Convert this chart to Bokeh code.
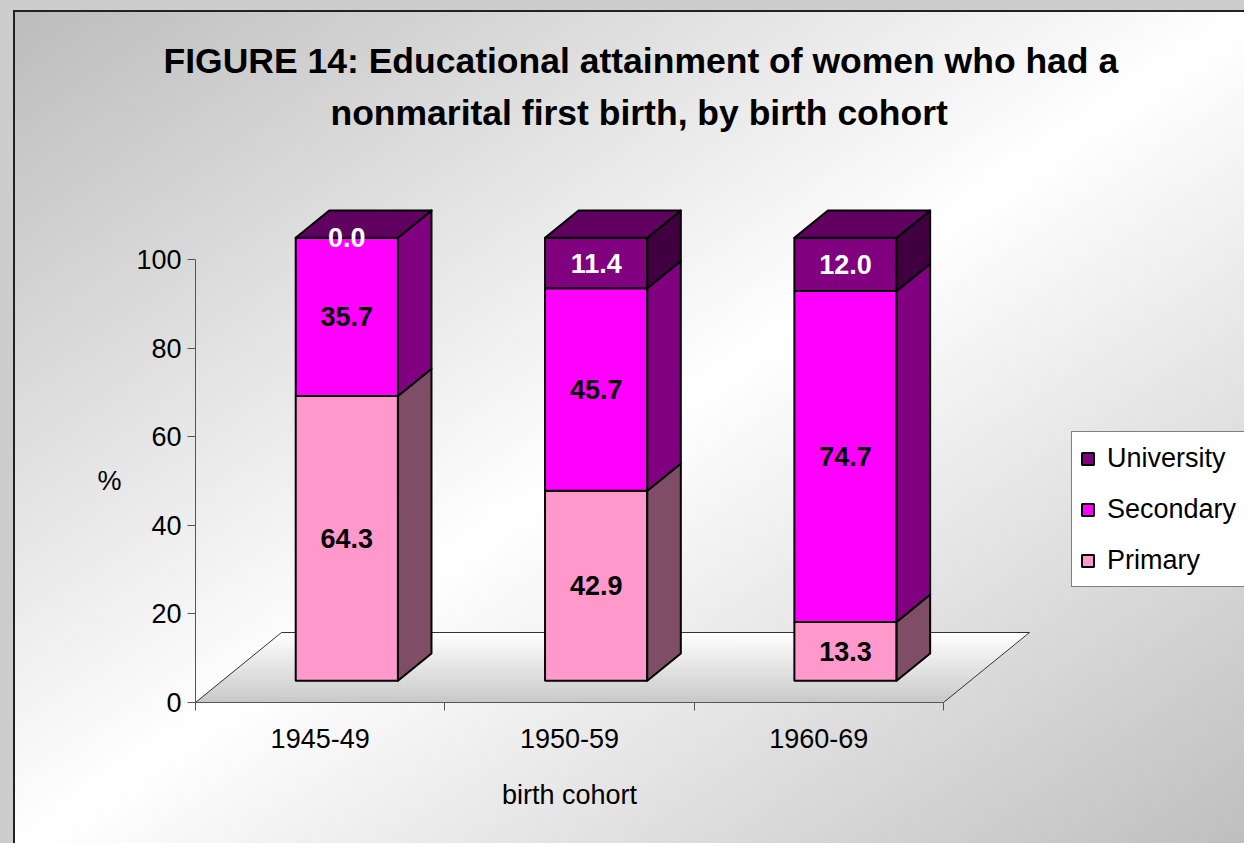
from bokeh.plotting import figure
from bokeh.models import (ColumnDataSource, Range1d, FixedTicker, Legend, LegendItem,
                          LinearAxis, Title)
from bokeh.core.properties import value
from bokeh.embed import file_html
from bokeh.resources import INLINE

# ---------------- data ----------------
cohorts = ["1945-49", "1950-59", "1960-69"]
primary = [64.3, 42.9, 13.3]
secondary = [35.7, 45.7, 74.7]
university = [0.0, 11.4, 12.0]
y_ticks = [0, 20, 40, 60, 80, 100]

series_names = ["Primary", "Secondary", "University"]
series_values = [primary, secondary, university]
front_colors = ["#FF99CC", "#FF00FF", "#800080"]
side_colors = ["#804D66", "#800080", "#400040"]
label_colors = ["black", "black", "white"]
top_color = "#600060"

title_lines = ["FIGURE 14: Educational attainment of women who had a",
               "nonmarital first birth, by birth cohort"]
x_title = "birth cohort"
y_title = "%"

FONT = "Liberation Sans"

# ---------------- layout (reference pixels) ----------------
W, H = 1244, 843
AX_X0, AX_X1 = 195, 943
AX_Y0, AX_Y100 = 702, 259
FRAME_TOP = 134
PX_PER_CAT = (AX_X1 - AX_X0) / len(cohorts)
PX_PER_PCT = (AX_Y0 - AX_Y100) / 100.0
FLOOR_DX_PX, FLOOR_DY_PX = 86, 70
BAR_FRONT, BAR_BACK = 0.31, 0.70
BAR_W = 0.41

left_border = AX_X0
bottom_border = H - AX_Y0
frame_w = W - left_border
frame_h = AX_Y0 - FRAME_TOP

p = figure(width=W, height=H, output_backend="svg", toolbar_location=None,
           x_range=Range1d(0, frame_w / PX_PER_CAT),
           y_range=Range1d(0, frame_h / PX_PER_PCT),
           min_border_left=left_border, min_border_bottom=bottom_border,
           min_border_top=FRAME_TOP, min_border_right=0)
p.title.visible = False
p.background_fill_color = None
p.border_fill_color = None
p.outline_line_color = None
p.xgrid.visible = False
p.ygrid.visible = False
p.styles = {
    "background": (
        "linear-gradient(#222, #222) 13px 10px / 2px 100% no-repeat, "
        "linear-gradient(#222, #222) 13px 10px / 100% 2px no-repeat, "
        "linear-gradient(to bottom right, #bcbcbc 0%, #ffffff 50%, #bdbdbd 100%) 14px 11px / 100% 100% no-repeat, "
        "#cdcdcd"
    )
}

# ---------------- titles ----------------
for line, off, stand in ((title_lines[1], 135, 4), (title_lines[0], -32, 16)):
    p.add_layout(Title(text=line, align="left", offset=off, standoff=stand,
                       text_font=FONT, text_font_style="bold", text_font_size="35.5px",
                       text_color="black"), "above")

# ---------------- axes ----------------
n = len(cohorts)
centers = [i + 0.5 for i in range(n)]
AXIS_COLOR = "#555555"

xa = p.xaxis[0]
xa.ticker = FixedTicker(ticks=centers, minor_ticks=list(range(n + 1)))
xa.major_label_overrides = {c: lab for c, lab in zip(centers, cohorts)}
xa.bounds = (0, n)
xa.major_tick_line_color = None
xa.minor_tick_in = 0
xa.minor_tick_out = 8
xa.minor_tick_line_color = AXIS_COLOR
xa.axis_line_color = AXIS_COLOR
xa.major_label_standoff = 18
xa.major_label_text_font = FONT
xa.major_label_text_font_size = "27px"
xa.major_label_text_color = "black"

ya = p.yaxis[0]
ya.ticker = FixedTicker(ticks=y_ticks, minor_ticks=[])
ya.bounds = (0, 100)
ya.major_tick_in = 0
ya.major_tick_out = 8
ya.major_tick_line_color = AXIS_COLOR
ya.axis_line_color = AXIS_COLOR
ya.minor_tick_line_color = None
ya.major_label_standoff = 6
ya.major_label_text_font = FONT
ya.major_label_text_font_size = "27px"
ya.major_label_text_color = "black"

# axis titles, placed through the axes' own scales
x_mid = n / 2.0
xa2 = LinearAxis(ticker=FixedTicker(ticks=[x_mid], minor_ticks=[]),
                 major_label_overrides={x_mid: x_title},
                 axis_line_color=None, major_tick_line_color=None, minor_tick_line_color=None,
                 major_tick_in=0, major_tick_out=0, major_label_standoff=29,
                 major_label_text_font=FONT, major_label_text_font_size="27px",
                 major_label_text_color="black")
p.add_layout(xa2, "below")

y_mid = 50
ya2 = LinearAxis(ticker=FixedTicker(ticks=[y_mid], minor_ticks=[]),
                 major_label_overrides={y_mid: y_title},
                 axis_line_color=None, major_tick_line_color=None, minor_tick_line_color=None,
                 major_tick_in=0, major_tick_out=0, major_label_standoff=12,
                 major_label_text_font=FONT, major_label_text_font_size="27px",
                 major_label_text_color="black")
p.add_layout(ya2, "left")

# ---------------- floor ----------------
dxF = FLOOR_DX_PX / PX_PER_CAT
dyF = FLOOR_DY_PX / PX_PER_PCT
NSTRIP = 24
fxs, fys, fcols = [], [], []
for k in range(NSTRIP):
    d0 = k / NSTRIP
    d1 = (k + 1) / NSTRIP
    fxs.append([d0 * dxF, n + d0 * dxF, n + d1 * dxF, d1 * dxF])
    fys.append([d0 * dyF, d0 * dyF, d1 * dyF, d1 * dyF])
    t = (k + 0.5) / NSTRIP
    g = int(round(200 + (255 - 200) * t))
    fcols.append("#%02x%02x%02x" % (g, g, g))
p.patches(xs=fxs, ys=fys, fill_color=fcols, line_color=fcols, line_width=1)
p.patch(x=[0, n, n + dxF, dxF], y=[0, 0, dyF, dyF], fill_color=None,
        line_color="#333333", line_width=1)

# ---------------- 3D stacked bars ----------------
fx0, fy0 = BAR_FRONT * dxF, BAR_FRONT * dyF
bdx, bdy = (BAR_BACK - BAR_FRONT) * dxF, (BAR_BACK - BAR_FRONT) * dyF

base = [0.0] * n
front_renderers = []
lab_x, lab_y, lab_t, lab_c = [], [], [], []
for s, (name, vals) in enumerate(zip(series_names, series_values)):
    lefts = [c - BAR_W / 2 + fx0 for c in centers]
    rights = [c + BAR_W / 2 + fx0 for c in centers]
    bottoms = [b + fy0 for b in base]
    tops = [b + v + fy0 for b, v in zip(base, vals)]
    src = ColumnDataSource(dict(left=lefts, right=rights, bottom=bottoms, top=tops))
    r = p.quad(left="left", right="right", bottom="bottom", top="top", source=src,
               fill_color=front_colors[s], line_color="black", line_width=2)
    front_renderers.append(r)
    sxs = [[rr, rr + bdx, rr + bdx, rr] for rr in rights]
    sys_ = [[b, b + bdy, t + bdy, t] for b, t in zip(bottoms, tops)]
    p.patches(xs=sxs, ys=sys_, fill_color=side_colors[s], line_color="black",
              line_width=2, line_join="round")
    for i in range(n):
        lab_x.append((lefts[i] + rights[i]) / 2)
        lab_y.append((bottoms[i] + tops[i]) / 2)
        lab_t.append("%.1f" % vals[i])
        lab_c.append(label_colors[s])
    base = [b + v for b, v in zip(base, vals)]

top_x = [[c - BAR_W / 2 + fx0, c - BAR_W / 2 + fx0 + bdx, c + BAR_W / 2 + fx0 + bdx, c + BAR_W / 2 + fx0]
         for c in centers]
top_y = [[b + fy0, b + fy0 + bdy, b + fy0 + bdy, b + fy0] for b in base]
p.patches(xs=top_x, ys=top_y, fill_color=top_color, line_color="black", line_width=2,
          line_join="round")

lsrc = ColumnDataSource(dict(x=lab_x, y=lab_y, text=lab_t, color=lab_c))
p.text(x="x", y="y", text="text", source=lsrc, text_color="color",
       text_font=value(FONT), text_font_style="bold", text_font_size="27px",
       text_align="center", text_baseline="middle")

# ---------------- legend ----------------
legend = Legend(
    items=[LegendItem(label=series_names[s], renderers=[front_renderers[s]]) for s in (2, 1, 0)],
    location=(1071 - AX_X0, AX_Y0 - 587),
    orientation="vertical",
    label_text_font=FONT, label_text_font_size="27px", label_text_color="black",
    glyph_width=15, glyph_height=15, label_height=36, label_standoff=12,
    spacing=15, padding=8, margin=0,
    border_line_color="black", border_line_width=1,
    background_fill_color="white", background_fill_alpha=1.0,
)
p.add_layout(legend)

open("out.html", "w").write(file_html(p, INLINE))
